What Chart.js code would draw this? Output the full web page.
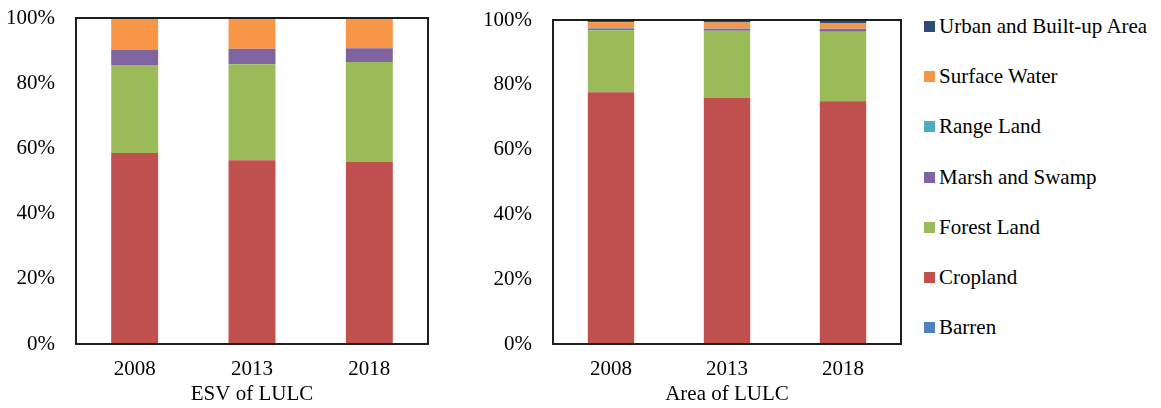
<!DOCTYPE html>
<html>
<head>
<meta charset="utf-8">
<script src="https://cdn.jsdelivr.net/npm/chart.js@4.4.1/dist/chart.umd.min.js"></script>
<style>
  html, body { margin: 0; padding: 0; background: #fff; }
  #wrap { position: relative; width: 1161px; height: 408px; overflow: hidden; }
  canvas { position: absolute; top: 0; }
  #esv { left: 0; }
  #area { left: 470px; }
  #legend { position: absolute; left: 924px; top: 0; font-family: "Liberation Serif", "Times New Roman", serif; font-size: 21px; color: #000; }
  .item { position: absolute; left: 0; white-space: nowrap; height: 24px; line-height: 24px; }
  .swatch { position: absolute; left: 0; top: 7px; width: 11px; height: 11px; }
  .label { position: absolute; left: 15px; top: 0; }
</style>
</head>
<body>
<div id="wrap">
  <canvas id="esv" width="460" height="408"></canvas>
  <canvas id="area" width="450" height="408"></canvas>
  <div id="legend"></div>
</div>
<script>
// Years on the category axis
const years = ['2008', '2013', '2018'];

// Land use / land cover classes, in stacking order (bottom to top)
const landClasses = ['Barren', 'Cropland', 'Forest Land', 'Marsh and Swamp', 'Range Land', 'Surface Water', 'Urban and Built-up Area'];

// Share of ecosystem service value by class (%)
const esvBarren   = [0, 0, 0];
const esvCropland = [58.6, 56.4, 55.9];
const esvForest   = [27.0, 29.4, 30.6];
const esvMarsh    = [4.6, 4.8, 4.2];
const esvRange    = [0, 0, 0];
const esvWater    = [9.8, 9.4, 9.3];
const esvUrban    = [0, 0, 0];

// Share of area by class (%)
const areaBarren   = [0.1, 0.1, 0.1];
const areaCropland = [77.6, 75.8, 74.8];
const areaForest   = [19.1, 20.8, 21.5];
const areaMarsh    = [0.6, 0.6, 0.8];
const areaRange    = [0.1, 0.1, 0.1];
const areaWater    = [1.8, 1.8, 1.8];
const areaUrban    = [0.7, 0.8, 0.9];

// Percent ticks on the value axis
const percentTicks = [0, 20, 40, 60, 80, 100];

// Fill colour per class
const classColors = ['#4F81BD', '#C0504D', '#9BBB59', '#8064A2', '#4BACC6', '#F79646', '#2C4D75'];

const FONT = { family: '"Liberation Serif", "Times New Roman", serif', size: 21 };
Chart.defaults.font = FONT;
Chart.defaults.color = '#000';

// Outline around the plot area
const frame = {
  id: 'frame',
  afterDatasetsDraw(chart) {
    const { ctx, chartArea: a } = chart;
    ctx.save();
    ctx.strokeStyle = '#1e1e1e';
    ctx.lineWidth = 2;
    ctx.strokeRect(a.left, a.top, a.right - a.left, a.bottom - a.top);
    ctx.restore();
  }
};

function makeChart(id, series, title, yWidth, padTop, padRight) {
  const datasets = landClasses.map((name, i) => ({
    label: name,
    data: series[i],
    backgroundColor: classColors[i],
    borderWidth: 0,
    categoryPercentage: 1,
    barPercentage: 0.4
  }));
  return new Chart(document.getElementById(id), {
    type: 'bar',
    data: { labels: years, datasets },
    options: {
      responsive: false,
      animation: false,
      devicePixelRatio: 1,
      layout: { padding: { top: padTop, right: padRight, left: 0, bottom: 0 } },
      plugins: { legend: { display: false }, tooltip: { enabled: false } },
      scales: {
        x: {
          stacked: true,
          grid: { display: false, drawTicks: false },
          border: { display: false },
          ticks: { padding: 13, font: FONT },
          title: { display: true, text: title, font: FONT, padding: { top: 0, bottom: 1 } },
          afterFit(s) { s.height = 64; s.paddingLeft = 0; s.paddingRight = 0; }
        },
        y: {
          stacked: true,
          min: 0,
          max: 100,
          grid: { display: false, drawTicks: false },
          border: { display: false },
          afterBuildTicks(s) { s.ticks = percentTicks.map(v => ({ value: v })); },
          ticks: { padding: 21, font: FONT, callback: v => v + '%' },
          afterFit(s) { s.width = yWidth; s.paddingTop = 0; s.paddingBottom = 0; }
        }
      }
    },
    plugins: [frame]
  });
}

makeChart('esv',
  [esvBarren, esvCropland, esvForest, esvMarsh, esvRange, esvWater, esvUrban],
  'ESV of LULC', 76, 18, 32);
makeChart('area',
  [areaBarren, areaCropland, areaForest, areaMarsh, areaRange, areaWater, areaUrban],
  'Area of LULC', 83, 20, 19);

// Legend, listed top-down in reverse stacking order
const legend = document.getElementById('legend');
landClasses.slice().reverse().forEach((name, k) => {
  const i = landClasses.length - 1 - k;
  const item = document.createElement('div');
  item.className = 'item';
  item.style.top = (14 + k * 50.2) + 'px';
  const sw = document.createElement('span');
  sw.className = 'swatch';
  sw.style.background = classColors[i];
  const lb = document.createElement('span');
  lb.className = 'label';
  lb.textContent = name;
  item.appendChild(sw);
  item.appendChild(lb);
  legend.appendChild(item);
});
</script>
</body>
</html>
